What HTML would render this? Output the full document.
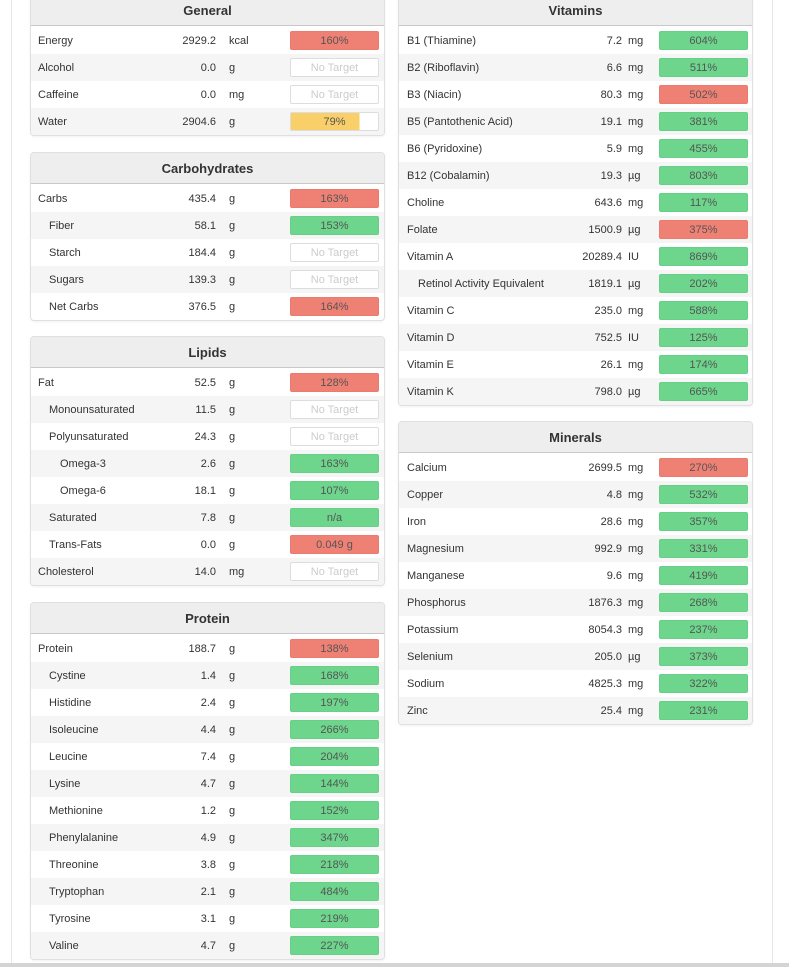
<!DOCTYPE html>
<html><head><meta charset="utf-8"><style>
*{box-sizing:border-box;margin:0;padding:0}
body{width:789px;height:967px;background:#fff;position:relative;overflow:hidden;font-family:"Liberation Sans",sans-serif;font-size:11px;color:#333}
.vl{position:absolute;top:0;width:1px;height:967px;background:#e6e6e6}
.bot{position:absolute;left:0;top:963px;width:789px;height:4px;background:#d4d4d4}
.p{position:absolute;width:355px;border:1px solid #e0e0e0;border-radius:4px;background:#fff;overflow:hidden;box-shadow:0 1px 2px rgba(0,0,0,.06)}
.h{height:31px;background:#eee;border-bottom:1px solid #c8c8c8;text-align:center;line-height:32px;font-weight:bold;font-size:13px;color:#333;margin-bottom:1px}
.r{height:27px;position:relative;line-height:29px}
.r:nth-of-type(odd){background:#f5f5f5}
.n{position:absolute;left:7px}
.i1{left:18px}.i2{left:29px}
.v{position:absolute;right:168px;text-align:right}
.u{position:absolute;left:198px}
.b{position:absolute;left:259px;top:4px;width:89px;height:19px;border:1px solid #ddd;border-radius:2px;text-align:center;line-height:18px;color:#555;overflow:hidden}
.R{background:#ef8074;border-color:#ec7a6e}
.G{background:#6dd58c;border-color:#66d086}
.N{color:#ccc;background:#fff}
.Y{background:linear-gradient(90deg,#f9cf6a 79%,#fff 79%)}
.q .v{right:130px}.q .u{left:229px}.q .b{left:260px}.q .n{left:8px}.q .i1{left:19px}
</style></head><body>
<div class="vl" style="left:11px"></div><div class="vl" style="left:772px"></div>
<div class="p" style="left:30px;top:-6px">
<div class="h">General</div>
<div class="r"><span class="n">Energy</span><span class="v">2929.2</span><span class="u">kcal</span><div class="b R">160%</div></div>
<div class="r"><span class="n">Alcohol</span><span class="v">0.0</span><span class="u">g</span><div class="b N">No Target</div></div>
<div class="r"><span class="n">Caffeine</span><span class="v">0.0</span><span class="u">mg</span><div class="b N">No Target</div></div>
<div class="r"><span class="n">Water</span><span class="v">2904.6</span><span class="u">g</span><div class="b Y">79%</div></div>
</div>
<div class="p" style="left:30px;top:152px">
<div class="h">Carbohydrates</div>
<div class="r"><span class="n">Carbs</span><span class="v">435.4</span><span class="u">g</span><div class="b R">163%</div></div>
<div class="r"><span class="n i1">Fiber</span><span class="v">58.1</span><span class="u">g</span><div class="b G">153%</div></div>
<div class="r"><span class="n i1">Starch</span><span class="v">184.4</span><span class="u">g</span><div class="b N">No Target</div></div>
<div class="r"><span class="n i1">Sugars</span><span class="v">139.3</span><span class="u">g</span><div class="b N">No Target</div></div>
<div class="r"><span class="n i1">Net Carbs</span><span class="v">376.5</span><span class="u">g</span><div class="b R">164%</div></div>
</div>
<div class="p" style="left:30px;top:336px">
<div class="h">Lipids</div>
<div class="r"><span class="n">Fat</span><span class="v">52.5</span><span class="u">g</span><div class="b R">128%</div></div>
<div class="r"><span class="n i1">Monounsaturated</span><span class="v">11.5</span><span class="u">g</span><div class="b N">No Target</div></div>
<div class="r"><span class="n i1">Polyunsaturated</span><span class="v">24.3</span><span class="u">g</span><div class="b N">No Target</div></div>
<div class="r"><span class="n i2">Omega-3</span><span class="v">2.6</span><span class="u">g</span><div class="b G">163%</div></div>
<div class="r"><span class="n i2">Omega-6</span><span class="v">18.1</span><span class="u">g</span><div class="b G">107%</div></div>
<div class="r"><span class="n i1">Saturated</span><span class="v">7.8</span><span class="u">g</span><div class="b G">n/a</div></div>
<div class="r"><span class="n i1">Trans-Fats</span><span class="v">0.0</span><span class="u">g</span><div class="b R">0.049 g</div></div>
<div class="r"><span class="n">Cholesterol</span><span class="v">14.0</span><span class="u">mg</span><div class="b N">No Target</div></div>
</div>
<div class="p" style="left:30px;top:602px">
<div class="h">Protein</div>
<div class="r"><span class="n">Protein</span><span class="v">188.7</span><span class="u">g</span><div class="b R">138%</div></div>
<div class="r"><span class="n i1">Cystine</span><span class="v">1.4</span><span class="u">g</span><div class="b G">168%</div></div>
<div class="r"><span class="n i1">Histidine</span><span class="v">2.4</span><span class="u">g</span><div class="b G">197%</div></div>
<div class="r"><span class="n i1">Isoleucine</span><span class="v">4.4</span><span class="u">g</span><div class="b G">266%</div></div>
<div class="r"><span class="n i1">Leucine</span><span class="v">7.4</span><span class="u">g</span><div class="b G">204%</div></div>
<div class="r"><span class="n i1">Lysine</span><span class="v">4.7</span><span class="u">g</span><div class="b G">144%</div></div>
<div class="r"><span class="n i1">Methionine</span><span class="v">1.2</span><span class="u">g</span><div class="b G">152%</div></div>
<div class="r"><span class="n i1">Phenylalanine</span><span class="v">4.9</span><span class="u">g</span><div class="b G">347%</div></div>
<div class="r"><span class="n i1">Threonine</span><span class="v">3.8</span><span class="u">g</span><div class="b G">218%</div></div>
<div class="r"><span class="n i1">Tryptophan</span><span class="v">2.1</span><span class="u">g</span><div class="b G">484%</div></div>
<div class="r"><span class="n i1">Tyrosine</span><span class="v">3.1</span><span class="u">g</span><div class="b G">219%</div></div>
<div class="r"><span class="n i1">Valine</span><span class="v">4.7</span><span class="u">g</span><div class="b G">227%</div></div>
</div>
<div class="p q" style="left:398px;top:-6px">
<div class="h">Vitamins</div>
<div class="r"><span class="n">B1 (Thiamine)</span><span class="v">7.2</span><span class="u">mg</span><div class="b G">604%</div></div>
<div class="r"><span class="n">B2 (Riboflavin)</span><span class="v">6.6</span><span class="u">mg</span><div class="b G">511%</div></div>
<div class="r"><span class="n">B3 (Niacin)</span><span class="v">80.3</span><span class="u">mg</span><div class="b R">502%</div></div>
<div class="r"><span class="n">B5 (Pantothenic Acid)</span><span class="v">19.1</span><span class="u">mg</span><div class="b G">381%</div></div>
<div class="r"><span class="n">B6 (Pyridoxine)</span><span class="v">5.9</span><span class="u">mg</span><div class="b G">455%</div></div>
<div class="r"><span class="n">B12 (Cobalamin)</span><span class="v">19.3</span><span class="u">µg</span><div class="b G">803%</div></div>
<div class="r"><span class="n">Choline</span><span class="v">643.6</span><span class="u">mg</span><div class="b G">117%</div></div>
<div class="r"><span class="n">Folate</span><span class="v">1500.9</span><span class="u">µg</span><div class="b R">375%</div></div>
<div class="r"><span class="n">Vitamin A</span><span class="v">20289.4</span><span class="u">IU</span><div class="b G">869%</div></div>
<div class="r"><span class="n i1">Retinol Activity Equivalent</span><span class="v">1819.1</span><span class="u">µg</span><div class="b G">202%</div></div>
<div class="r"><span class="n">Vitamin C</span><span class="v">235.0</span><span class="u">mg</span><div class="b G">588%</div></div>
<div class="r"><span class="n">Vitamin D</span><span class="v">752.5</span><span class="u">IU</span><div class="b G">125%</div></div>
<div class="r"><span class="n">Vitamin E</span><span class="v">26.1</span><span class="u">mg</span><div class="b G">174%</div></div>
<div class="r"><span class="n">Vitamin K</span><span class="v">798.0</span><span class="u">µg</span><div class="b G">665%</div></div>
</div>
<div class="p q" style="left:398px;top:421px">
<div class="h">Minerals</div>
<div class="r"><span class="n">Calcium</span><span class="v">2699.5</span><span class="u">mg</span><div class="b R">270%</div></div>
<div class="r"><span class="n">Copper</span><span class="v">4.8</span><span class="u">mg</span><div class="b G">532%</div></div>
<div class="r"><span class="n">Iron</span><span class="v">28.6</span><span class="u">mg</span><div class="b G">357%</div></div>
<div class="r"><span class="n">Magnesium</span><span class="v">992.9</span><span class="u">mg</span><div class="b G">331%</div></div>
<div class="r"><span class="n">Manganese</span><span class="v">9.6</span><span class="u">mg</span><div class="b G">419%</div></div>
<div class="r"><span class="n">Phosphorus</span><span class="v">1876.3</span><span class="u">mg</span><div class="b G">268%</div></div>
<div class="r"><span class="n">Potassium</span><span class="v">8054.3</span><span class="u">mg</span><div class="b G">237%</div></div>
<div class="r"><span class="n">Selenium</span><span class="v">205.0</span><span class="u">µg</span><div class="b G">373%</div></div>
<div class="r"><span class="n">Sodium</span><span class="v">4825.3</span><span class="u">mg</span><div class="b G">322%</div></div>
<div class="r"><span class="n">Zinc</span><span class="v">25.4</span><span class="u">mg</span><div class="b G">231%</div></div>
</div>
<div class="bot"></div>
</body></html>
